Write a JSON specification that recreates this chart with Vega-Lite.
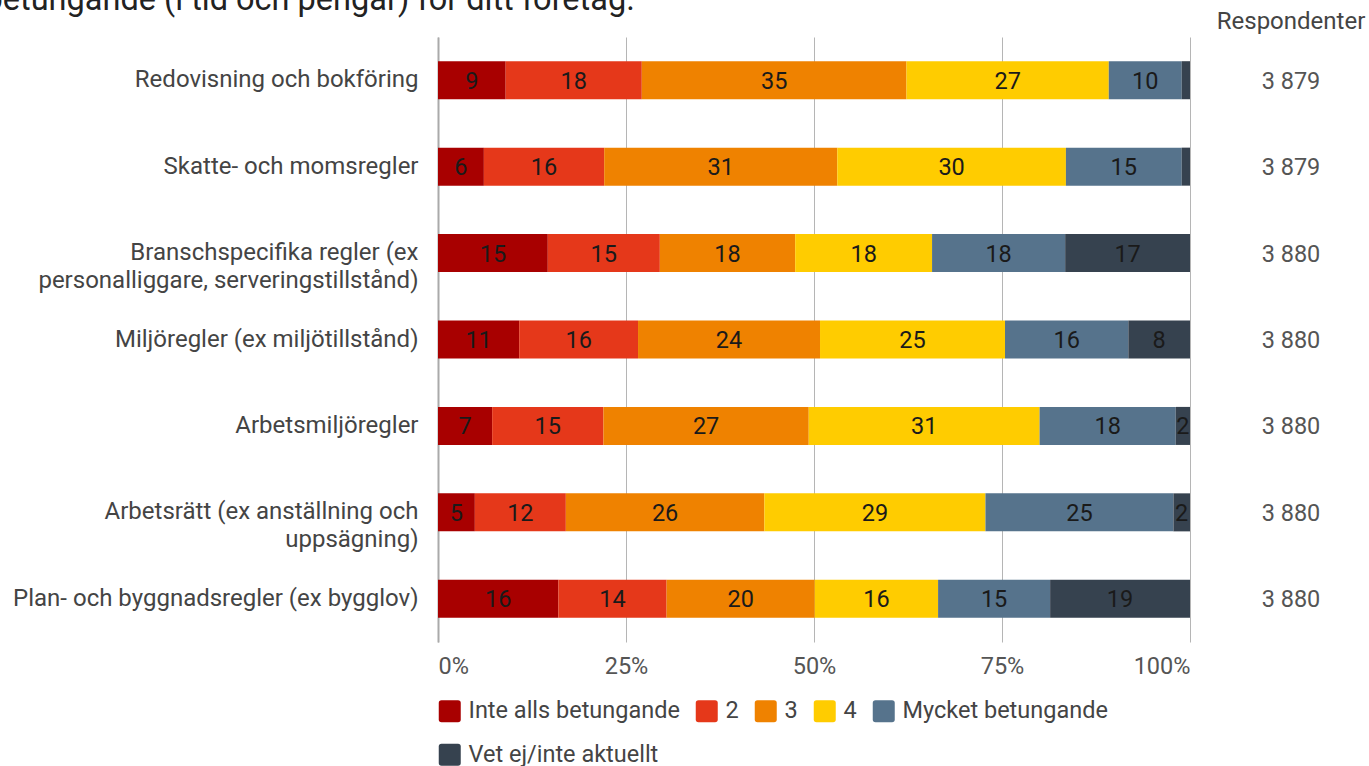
{
  "$schema": "https://vega.github.io/schema/vega-lite/v6.json",
  "padding": {"left": -16, "top": -16, "right": 0, "bottom": 0},
  "title": {
    "text": "betungande (i tid och pengar) för ditt företag.",
    "anchor": "start",
    "frame": "bounds",
    "dx": -28,
    "offset": -6.5,
    "fontSize": 32.5,
    "font": "Roboto",
    "fontWeight": "normal",
    "color": "#222222"
  },
  "config": {
    "font": "Roboto",
    "view": {"stroke": null},
    "locale": {"number": {"decimal": ",", "thousands": " ", "grouping": [3], "currency": ["", " kr"]}}
  },
  "datasets": {
    "svar": [
      {"omrade": "Redovisning och bokföring", "svar": "Inte alls betungande", "niva": 1, "andel": 9.0},
      {"omrade": "Redovisning och bokföring", "svar": "2", "niva": 2, "andel": 18.1},
      {"omrade": "Redovisning och bokföring", "svar": "3", "niva": 3, "andel": 35.2},
      {"omrade": "Redovisning och bokföring", "svar": "4", "niva": 4, "andel": 26.9},
      {"omrade": "Redovisning och bokföring", "svar": "Mycket betungande", "niva": 5, "andel": 9.7},
      {"omrade": "Redovisning och bokföring", "svar": "Vet ej/inte aktuellt", "niva": 6, "andel": 1.1},
      {"omrade": "Skatte- och momsregler", "svar": "Inte alls betungande", "niva": 1, "andel": 6.1},
      {"omrade": "Skatte- och momsregler", "svar": "2", "niva": 2, "andel": 16.0},
      {"omrade": "Skatte- och momsregler", "svar": "3", "niva": 3, "andel": 31.0},
      {"omrade": "Skatte- och momsregler", "svar": "4", "niva": 4, "andel": 30.4},
      {"omrade": "Skatte- och momsregler", "svar": "Mycket betungande", "niva": 5, "andel": 15.4},
      {"omrade": "Skatte- och momsregler", "svar": "Vet ej/inte aktuellt", "niva": 6, "andel": 1.1},
      {"omrade": "Branschspecifika regler (ex|personalliggare, serveringstillstånd)", "svar": "Inte alls betungande", "niva": 1, "andel": 14.6},
      {"omrade": "Branschspecifika regler (ex|personalliggare, serveringstillstånd)", "svar": "2", "niva": 2, "andel": 14.9},
      {"omrade": "Branschspecifika regler (ex|personalliggare, serveringstillstånd)", "svar": "3", "niva": 3, "andel": 18.0},
      {"omrade": "Branschspecifika regler (ex|personalliggare, serveringstillstånd)", "svar": "4", "niva": 4, "andel": 18.2},
      {"omrade": "Branschspecifika regler (ex|personalliggare, serveringstillstånd)", "svar": "Mycket betungande", "niva": 5, "andel": 17.7},
      {"omrade": "Branschspecifika regler (ex|personalliggare, serveringstillstånd)", "svar": "Vet ej/inte aktuellt", "niva": 6, "andel": 16.6},
      {"omrade": "Miljöregler (ex miljötillstånd)", "svar": "Inte alls betungande", "niva": 1, "andel": 10.8},
      {"omrade": "Miljöregler (ex miljötillstånd)", "svar": "2", "niva": 2, "andel": 15.8},
      {"omrade": "Miljöregler (ex miljötillstånd)", "svar": "3", "niva": 3, "andel": 24.2},
      {"omrade": "Miljöregler (ex miljötillstånd)", "svar": "4", "niva": 4, "andel": 24.6},
      {"omrade": "Miljöregler (ex miljötillstånd)", "svar": "Mycket betungande", "niva": 5, "andel": 16.4},
      {"omrade": "Miljöregler (ex miljötillstånd)", "svar": "Vet ej/inte aktuellt", "niva": 6, "andel": 8.2},
      {"omrade": "Arbetsmiljöregler", "svar": "Inte alls betungande", "niva": 1, "andel": 7.2},
      {"omrade": "Arbetsmiljöregler", "svar": "2", "niva": 2, "andel": 14.8},
      {"omrade": "Arbetsmiljöregler", "svar": "3", "niva": 3, "andel": 27.3},
      {"omrade": "Arbetsmiljöregler", "svar": "4", "niva": 4, "andel": 30.7},
      {"omrade": "Arbetsmiljöregler", "svar": "Mycket betungande", "niva": 5, "andel": 18.1},
      {"omrade": "Arbetsmiljöregler", "svar": "Vet ej/inte aktuellt", "niva": 6, "andel": 1.9},
      {"omrade": "Arbetsrätt (ex anställning och|uppsägning)", "svar": "Inte alls betungande", "niva": 1, "andel": 4.9},
      {"omrade": "Arbetsrätt (ex anställning och|uppsägning)", "svar": "2", "niva": 2, "andel": 12.1},
      {"omrade": "Arbetsrätt (ex anställning och|uppsägning)", "svar": "3", "niva": 3, "andel": 26.4},
      {"omrade": "Arbetsrätt (ex anställning och|uppsägning)", "svar": "4", "niva": 4, "andel": 29.4},
      {"omrade": "Arbetsrätt (ex anställning och|uppsägning)", "svar": "Mycket betungande", "niva": 5, "andel": 25.0},
      {"omrade": "Arbetsrätt (ex anställning och|uppsägning)", "svar": "Vet ej/inte aktuellt", "niva": 6, "andel": 2.2},
      {"omrade": "Plan- och byggnadsregler (ex bygglov)", "svar": "Inte alls betungande", "niva": 1, "andel": 16.0},
      {"omrade": "Plan- och byggnadsregler (ex bygglov)", "svar": "2", "niva": 2, "andel": 14.4},
      {"omrade": "Plan- och byggnadsregler (ex bygglov)", "svar": "3", "niva": 3, "andel": 19.7},
      {"omrade": "Plan- och byggnadsregler (ex bygglov)", "svar": "4", "niva": 4, "andel": 16.4},
      {"omrade": "Plan- och byggnadsregler (ex bygglov)", "svar": "Mycket betungande", "niva": 5, "andel": 14.9},
      {"omrade": "Plan- och byggnadsregler (ex bygglov)", "svar": "Vet ej/inte aktuellt", "niva": 6, "andel": 18.6}
    ],
    "resp": [
      {"omrade": "Redovisning och bokföring", "antal": 3879},
      {"omrade": "Skatte- och momsregler", "antal": 3879},
      {"omrade": "Branschspecifika regler (ex|personalliggare, serveringstillstånd)", "antal": 3880},
      {"omrade": "Miljöregler (ex miljötillstånd)", "antal": 3880},
      {"omrade": "Arbetsmiljöregler", "antal": 3880},
      {"omrade": "Arbetsrätt (ex anställning och|uppsägning)", "antal": 3880},
      {"omrade": "Plan- och byggnadsregler (ex bygglov)", "antal": 3880}
    ]
  },
  "bounds": "flush",
  "spacing": 21,
  "hconcat": [
    {
      "width": 752,
      "height": 605,
      "data": {"name": "svar"},
      "layer": [
        {
          "mark": {"type": "bar"},
          "encoding": {
            "y": {
              "field": "omrade", "type": "nominal", "sort": null,
              "scale": {"paddingInner": 0.56, "paddingOuter": 0.28},
              "axis": {
                "title": null, "ticks": false, "labelPadding": 20, "labelFontSize": 24,
                "labelColor": "#444444", "labelLimit": 700, "labelFont": "Roboto",
                "labelExpr": "split(datum.label, '|')", "labelLineHeight": 28,
                "domainColor": "#aaaaaa", "domainWidth": 2, "grid": false
              }
            },
            "x": {
              "field": "andel", "type": "quantitative", "stack": "normalize",
              "axis": {
                "title": null, "format": ".0%", "values": [0, 0.25, 0.5, 0.75, 1],
                "ticks": false, "domain": false, "grid": true, "gridColor": "#b5b5b5",
                "labelFontSize": 23.5, "labelColor": "#555555", "labelPadding": 12,
                "labelFlush": true, "labelFont": "Roboto"
              }
            },
            "color": {
              "field": "svar", "type": "nominal",
              "scale": {
                "domain": ["Inte alls betungande", "2", "3", "4", "Mycket betungande", "Vet ej/inte aktuellt"],
                "range": ["#a80000", "#e5381a", "#ef8200", "#ffcc00", "#56738c", "#36424f"]
              },
              "legend": {
                "orient": "none", "legendX": 0, "legendY": 662, "direction": "horizontal",
                "columns": 5, "title": null, "labelFontSize": 23.5, "labelColor": "#444444",
                "labelFont": "Roboto", "labelLimit": 400, "symbolSize": 484,
                "symbolType": "M-1,-0.75Q-1,-1,-0.75,-1L0.75,-1Q1,-1,1,-0.75L1,0.75Q1,1,0.75,1L-0.75,1Q-1,1,-1,0.75Z",
                "symbolStrokeWidth": 0, "labelOffset": 7, "columnPadding": 15, "rowPadding": 19
              }
            },
            "order": {"field": "niva", "type": "quantitative"}
          }
        },
        {
          "mark": {"type": "text", "fontSize": 23.5, "color": "#1a1a1a", "font": "Roboto", "dy": 1.5},
          "encoding": {
            "y": {"field": "omrade", "type": "nominal", "sort": null},
            "x": {"field": "andel", "type": "quantitative", "stack": "normalize", "bandPosition": 0.5},
            "detail": {"field": "svar"},
            "order": {"field": "niva", "type": "quantitative"},
            "text": {
              "condition": {"test": "datum.andel < 1.5", "value": ""},
              "field": "andel", "type": "quantitative", "format": ".0f"
            }
          }
        }
      ]
    },
    {
      "width": 160,
      "height": 605,
      "data": {"name": "resp"},
      "title": {"text": "Respondenter", "fontSize": 24, "fontWeight": "normal", "color": "#444444", "offset": 3, "anchor": "middle", "font": "Roboto"},
      "mark": {"type": "text", "fontSize": 23.5, "color": "#555555", "font": "Roboto", "dy": 1.5},
      "encoding": {
        "y": {
          "field": "omrade", "type": "nominal", "sort": null, "axis": null,
          "scale": {"paddingInner": 0.56, "paddingOuter": 0.28}
        },
        "text": {"field": "antal", "type": "quantitative", "format": ",d"}
      }
    }
  ]
}
